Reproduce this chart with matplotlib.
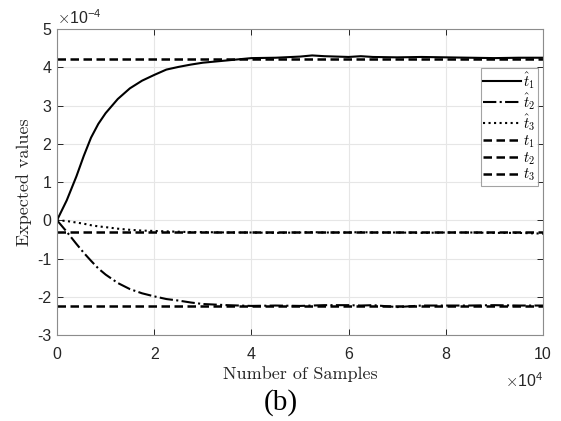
import matplotlib
matplotlib.use("Agg")
import matplotlib.pyplot as plt
from matplotlib.ticker import FuncFormatter

plt.rcParams['mathtext.fontset'] = 'cm'
plt.rcParams['font.family'] = ['Liberation Sans', 'DejaVu Sans']
plt.rcParams['axes.unicode_minus'] = False

# Data (y values in units of 1e-4)
samples = [0, 2000, 4000, 5500, 7000, 8500, 10000, 12500, 15000, 17500, 20000,
           22500, 25000, 27500, 30000, 35000, 40000, 45000, 50000, 52500, 55000,
           60000, 62500, 65000, 70000, 75000, 80000, 85000, 90000, 95000, 100000]
t1_hat = [0, 0.52, 1.15, 1.68, 2.16, 2.52, 2.80, 3.17, 3.45, 3.65, 3.80,
          3.94, 4.01, 4.07, 4.12, 4.18, 4.24, 4.25, 4.28, 4.31, 4.29,
          4.27, 4.29, 4.27, 4.26, 4.27, 4.26, 4.25, 4.24, 4.25, 4.25]
t2_hat = [0, -0.30, -0.62, -0.85, -1.06, -1.26, -1.42, -1.64, -1.80, -1.91, -1.99,
          -2.06, -2.10, -2.15, -2.19, -2.22, -2.24, -2.23, -2.24, -2.23, -2.22,
          -2.22, -2.23, -2.22, -2.27, -2.23, -2.23, -2.23, -2.22, -2.23, -2.23]
t3_hat = [0, -0.02, -0.06, -0.09, -0.13, -0.16, -0.18, -0.22, -0.25, -0.27, -0.28,
          -0.29, -0.30, -0.31, -0.31, -0.32, -0.32, -0.33, -0.32, -0.31, -0.32,
          -0.32, -0.31, -0.32, -0.32, -0.33, -0.32, -0.32, -0.33, -0.33, -0.35]
true_values = [4.21, -2.23, -0.32]
true_range = [0, 100000]
scale = 1e-4
x_scale = 1e4

x_ticks = [0, 2, 4, 6, 8, 10]
y_ticks = [-3, -2, -1, 0, 1, 2, 3, 4, 5]

hat_labels = [r'$\hat{t}_1$', r'$\hat{t}_2$', r'$\hat{t}_3$']
true_labels = [r'$t_1$', r'$t_2$', r'$t_3$']

fig = plt.figure(figsize=(5.61, 4.21), dpi=100)
ax = fig.add_axes([0.1016, 0.2043, 0.8664, 0.7267])

ax.plot(samples, [v * scale for v in t1_hat], color='black', lw=1.5, ls='-', label=hat_labels[0])
ax.plot(samples, [v * scale for v in t2_hat], color='black', lw=1.5, ls='-.', label=hat_labels[1])
ax.plot(samples, [v * scale for v in t3_hat], color='black', lw=1.5, ls=':', label=hat_labels[2])
for v, lab in zip(true_values, true_labels):
    ax.plot(true_range, [v * scale, v * scale], color='black', lw=1.8,
            ls=(0, (3.4, 1.8)), label=lab)

ax.set_xlim(0, 100000)
ax.set_ylim(-3e-4, 5e-4)
ax.set_xticks([t * x_scale for t in x_ticks])
ax.set_yticks([t * scale for t in y_ticks])
ax.xaxis.set_major_formatter(FuncFormatter(lambda v, p: f'{v / x_scale:g}'))
ax.yaxis.set_major_formatter(FuncFormatter(lambda v, p: f'{round(v / scale, 6):g}'))

ax.grid(True, color='#e6e6e6', lw=0.8)
ax.set_axisbelow(True)
ax.tick_params(direction='in', top=True, right=True, length=4, width=0.7,
               color='#262626', labelsize=11.5, labelcolor='#262626')
ax.tick_params(axis='x', pad=9)
ax.tick_params(axis='y', pad=4)
for sp in ax.spines.values():
    sp.set_color('#8c8c8c')
    sp.set_linewidth(0.8)

ax.text(0.0, 1.008, r'$\times\mathdefault{10^{-4}}$', transform=ax.transAxes,
        fontsize=11.5, color='#262626', ha='left', va='bottom')
ax.text(1.0, -0.12, r'$\times\mathdefault{10^{4}}$', transform=ax.transAxes,
        fontsize=11.5, color='#262626', ha='right', va='top')

ax.set_xlabel('Number of Samples', family='cmr10', fontsize=13, color='#262626', labelpad=3)
ax.set_ylabel('Expected values', family='cmr10', fontsize=13, color='#262626', labelpad=4)

leg = ax.legend(loc='upper right', bbox_to_anchor=(0.9897, 0.8725), fontsize=10.5,
                handlelength=2.6, handletextpad=0.15, labelspacing=0.02,
                borderpad=0.15, borderaxespad=0, frameon=True, fancybox=False)
leg.get_frame().set_edgecolor('#8c8c8c')
leg.get_frame().set_linewidth(0.8)

fig.text(0.5, 0.045, '(b)', family='Liberation Serif', fontsize=21, ha='center', va='center')

fig.savefig('out.png', dpi=100)
